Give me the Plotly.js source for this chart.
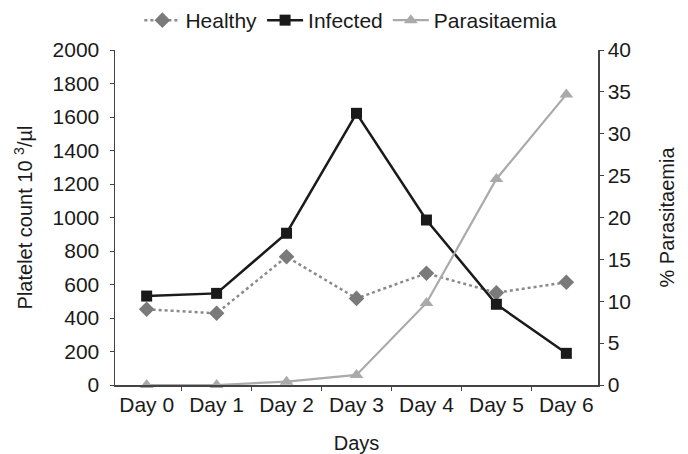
<!DOCTYPE html>
<html>
<head>
<meta charset="utf-8">
<script src="https://cdn.plot.ly/plotly-3.0.1.min.js"></script>
<style>html,body{margin:0;padding:0;background:#fff;}#chart{width:688px;height:454px;}</style>
</head>
<body>
<div id="chart"></div>
<script>
var days = ["Day 0", "Day 1", "Day 2", "Day 3", "Day 4", "Day 5", "Day 6"];
var healthy = [452, 428, 766, 517, 667, 551, 613];
var infected = [531, 547, 906, 1622, 985, 482, 189];
var parasitaemia = [0, 0, 0.4, 1.2, 9.8, 24.6, 34.7];
var leftTicks = [0, 200, 400, 600, 800, 1000, 1200, 1400, 1600, 1800, 2000];
var rightTicks = [0, 5, 10, 15, 20, 25, 30, 35, 40];

var fontFam = "Liberation Sans, Arial, sans-serif";
var traces = [
  {x: days, y: healthy, name: "Healthy", type: "scatter", mode: "lines+markers",
   line: {color: "#8a8a8a", width: 2.5, dash: "dot"},
   marker: {symbol: "diamond", size: 12, color: "#7a7a7a"}, cliponaxis: false},
  {x: days, y: infected, name: "Infected", type: "scatter", mode: "lines+markers",
   line: {color: "#1a1a1a", width: 2.5},
   marker: {symbol: "square", size: 11, color: "#1a1a1a"}, cliponaxis: false},
  {x: days, y: parasitaemia, name: "Parasitaemia", type: "scatter", mode: "lines+markers",
   yaxis: "y2",
   line: {color: "#aaaaaa", width: 2.2},
   marker: {symbol: "triangle-up", size: 12, color: "#aaaaaa"}, cliponaxis: false}
];

var layout = {
  width: 688, height: 454,
  margin: {l: 115, r: 90, t: 50, b: 69},
  paper_bgcolor: "#fff", plot_bgcolor: "#fff",
  font: {family: fontFam, size: 21, color: "#1a1a1a"},
  showlegend: true,
  legend: {orientation: "h", x: 0.51, xanchor: "center", xref: "container",
           y: 1, yanchor: "top", yref: "container",
           font: {size: 21, color: "#1a1a1a"}, itemwidth: 36, tracegroupgap: 0},
  xaxis: {type: "category", showline: true, linecolor: "#444", linewidth: 1.5,
          ticks: "outside", tickson: "boundaries", ticklen: 4, tickcolor: "#444",
          showgrid: false, zeroline: false,
          title: {text: "Days", font: {size: 20}, standoff: 22}},
  yaxis: {range: [0, 2000], tickvals: leftTicks, showline: true, linecolor: "#444", linewidth: 1.5,
          ticks: "outside", ticklen: 4, tickcolor: "#444", showgrid: false, zeroline: false,
          ticklabelstandoff: 6,
          title: {text: "Platelet count 10 <sup>3</sup>/µl", font: {size: 20}, standoff: 14}},
  yaxis2: {range: [0, 40], tickvals: rightTicks, overlaying: "y", side: "right",
           showline: true, linecolor: "#444", linewidth: 1.5,
           ticks: "outside", ticklen: 4, tickcolor: "#444", showgrid: false, zeroline: false,
           title: {text: "% Parasitaemia", font: {size: 20}, standoff: 30}}
};

Plotly.newPlot("chart", traces, layout, {displayModeBar: false, staticPlot: true});
</script>
</body>
</html>
